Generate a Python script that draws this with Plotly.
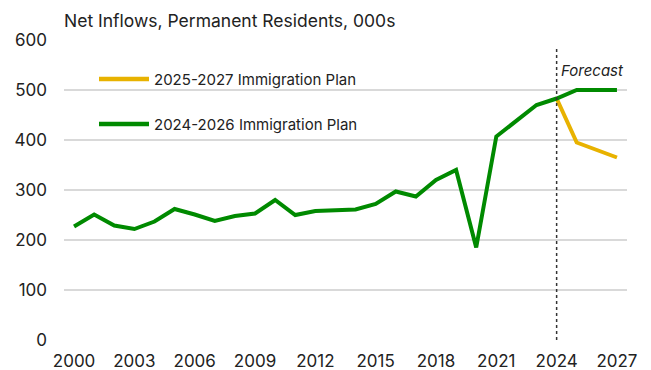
import plotly.graph_objects as go

years = list(range(2000, 2028))
plan_2024_2026 = [227, 251, 229, 222, 237, 262, 251, 238, 248, 253,
                  280, 250, 258, 259, 261, 272, 297, 287, 320, 340,
                  185, 407, 438, 470, 483, 500, 500, 500]
plan_years_2025 = [2024, 2025, 2026, 2027]
plan_2025_2027 = [483, 395, 380, 365]
series_names = ["2025-2027 Immigration Plan", "2024-2026 Immigration Plan"]

GREEN = "#008a00"
YELLOW = "#e8b200"
FONT = "Inter"
TXT = "#222222"

W, H = 651, 370
L, R, T, B = 64, 24, 40, 30
PW, PH = W - L - R, H - T - B

def px(xp):
    return (xp - L) / PW

def py(yp):
    return (H - B - yp) / PH

fig = go.Figure()
fig.add_trace(go.Scatter(x=plan_years_2025, y=plan_2025_2027, mode="lines",
                         name=series_names[0], line=dict(color=YELLOW, width=4)))
fig.add_trace(go.Scatter(x=years, y=plan_2024_2026, mode="lines",
                         name=series_names[1], line=dict(color=GREEN, width=4)))

# forecast divider
fig.add_shape(type="line", x0=2024, x1=2024, y0=0, y1=587, xref="x", yref="y",
              line=dict(color="#333333", width=1.5, dash="dot"))
fig.add_annotation(x=2024, y=540, xref="x", yref="y", text="<i>Forecast</i>",
                   showarrow=False, xanchor="left", xshift=2,
                   font=dict(family=FONT, size=15, color=TXT))

# custom legend (long key lines)
for name, col, ypix in [(series_names[0], YELLOW, 79), (series_names[1], GREEN, 124)]:
    fig.add_shape(type="line", xref="paper", yref="paper",
                  x0=px(99), x1=px(149), y0=py(ypix), y1=py(ypix),
                  line=dict(color=col, width=4.5))
    fig.add_annotation(xref="paper", yref="paper", x=px(152), y=py(ypix),
                       xanchor="left", yanchor="middle", showarrow=False, text=name,
                       font=dict(family=FONT, size=15, color=TXT))

fig.update_layout(
    width=W, height=H,
    margin=dict(l=L, r=R, t=T, b=B),
    paper_bgcolor="white", plot_bgcolor="white",
    font=dict(family=FONT, size=17, color=TXT),
    title=dict(text="Net Inflows, Permanent Residents, 000s", x=64/W, xanchor="left",
               y=1 - 21/H, yanchor="middle", font=dict(family=FONT, size=17.5, color=TXT)),
    showlegend=False,
    xaxis=dict(range=[1999.5, 2027.5], tickmode="array", automargin=False,
               tickvals=list(range(2000, 2028, 3)), showgrid=False, zeroline=False,
               showline=False, ticks="", ticklabelstandoff=9, tickfont=dict(size=17)),
    yaxis=dict(range=[0, 600], tickmode="array", tickvals=[0, 100, 200, 300, 400, 500, 600],
               automargin=False,
               showgrid=True, gridcolor="#d9d9d9", gridwidth=2, zeroline=False,
               showline=False, ticks="", ticklabelstandoff=16, tickfont=dict(size=17)),
)

fig.write_html("out.html")
